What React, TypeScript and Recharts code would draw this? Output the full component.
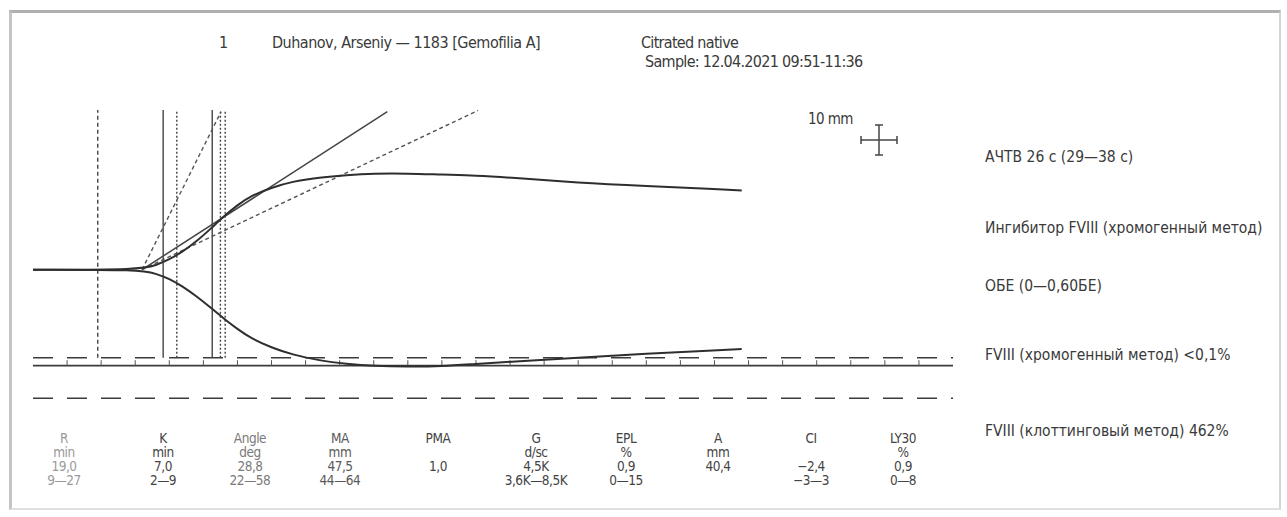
import React from 'react'
import { ComposedChart, Line, XAxis, YAxis, ReferenceLine } from 'recharts'

// trace: minutes vs half-amplitude in mm
const minutes = [0, 16, 18, 20, 22, 24, 26, 28, 30, 32, 35, 38, 42, 46, 50, 55, 60, 65, 70, 80, 90, 100, 104]
const upperMm = [0, 0, 1.1, 2.5, 4.5, 7.0, 10.0, 13.2, 16.0, 18.3, 20.3, 21.8, 22.8, 23.4, 23.8, 23.8, 23.5, 23.3, 22.8, 21.5, 20.7, 20.0, 19.6]
const lowerMm = [0, 0, -1.0, -2.2, -4.2, -6.6, -9.3, -12.1, -14.7, -17.0, -19.3, -21.0, -22.5, -23.3, -23.8, -24.0, -23.9, -23.3, -22.8, -21.8, -20.8, -20.0, -19.6]

// angle lines: [start, end] as {t, v}
const angleLine = [{ t: 16, v: 0 }, { t: 52, v: 39.1 }]
const angleNormMin = [{ t: 16, v: 0 }, { t: 65.3, v: 39.4 }]
const angleNormMax = [{ t: 16, v: 0 }, { t: 27.6, v: 39.1 }]

// vertical markers (min) and their kind
const markerMinutes = [9.5, 19.1, 21.1, 26.3, 27.5, 28.2]
const markerKinds = ['dash', 'solid', 'dot', 'solid', 'dot', 'dot']

// MA lines (half amplitude, mm)
const maLine = -23.75
const maNormLow = -21.8
const maNormHigh = -31.8

const tickMinutes = [5, 10, 15, 20, 25, 30, 35, 40, 45, 50, 55, 60, 65, 70, 75, 80, 85, 90, 95, 100, 105, 110, 115, 120, 125, 130]

const paramNames = ['R', 'K', 'Angle', 'MA', 'PMA', 'G', 'EPL', 'A', 'CI', 'LY30']
const paramUnits = ['min', 'min', 'deg', 'mm', '', 'd/sc', '%', 'mm', '', '%']
const paramValues = ['19,0', '7,0', '28,8', '47,5', '1,0', '4,5K', '0,9', '40,4', '−2,4', '0,9']
const paramRanges = ['9—27', '2—9', '22—58', '44—64', '', '3,6K—8,5K', '0—15', '', '−3—3', '0—8']

const notes = [
  'АЧТВ 26 с (29—38 с)',
  'Ингибитор FVIII (хромогенный метод)',
  'ОБЕ (0—0,60БЕ)',
  'FVIII (хромогенный метод) <0,1%',
  'FVIII (клоттинговый метод) 462%',
]

const FONT = '"DejaVu Sans Condensed", "DejaVu Sans", sans-serif'
const INK = '#3a3a3a'

const colX = [64, 163, 250, 340, 438, 536, 626, 718, 811, 903]
const colInk = ['#9a9a9a', '#444', '#7a7a7a', '#5a5a5a', '#444', '#444', '#444', '#444', '#444', '#444']
const rowY = [439, 453, 467, 481]
const noteY = [158, 229, 287, 356, 432]

const dashFor = (k: string) => (k === 'dash' ? '4 3' : k === 'dot' ? '2 2' : undefined)

export default function App() {
  const curve = minutes.map((t, i) => ({ t, upper: upperMm[i], lower: lowerMm[i] }))

  const txt = (s: string, x: number, y: number, size: number, ls: number) => (
    <div
      key={`${s}-${x}-${y}`}
      style={{
        position: 'absolute', left: x, top: y - size / 2, height: size,
        whiteSpace: 'nowrap', lineHeight: 1, fontFamily: FONT, fontStretch: 'condensed',
        fontSize: size, letterSpacing: ls, color: INK,
      }}
    >
      {s}
    </div>
  )

  return (
    <div style={{ position: 'absolute', left: 0, top: 0, width: 1287, height: 517, background: '#fff', overflow: 'hidden' }}>
      <div style={{
        position: 'absolute', left: 9, top: 10, width: 1272, height: 500,
        borderTop: '3px solid #b0b0b0', borderLeft: '3px solid #c4c4c4',
        borderRight: '2px solid #d4d4d4', borderBottom: '2px solid #e0e0e0', boxSizing: 'border-box',
      }} />

      <ComposedChart width={1287} height={517} margin={{ top: 108, right: 334, bottom: 118, left: 33 }} style={{ position: 'absolute', left: 0, top: 0 }}>
        <XAxis dataKey="t" type="number" domain={[0, 135]} hide allowDataOverflow />
        <YAxis type="number" domain={[-32, 40]} hide allowDataOverflow />

        {markerMinutes.map((m, i) => (
          <ReferenceLine key={`m${i}`} segment={[{ x: m, y: maNormLow }, { x: m, y: 39.5 }]}
            stroke="#444" strokeWidth={1.4} strokeDasharray={dashFor(markerKinds[i])} />
        ))}

        <ReferenceLine segment={[{ x: 0, y: maNormLow }, { x: 135, y: maNormLow }]} stroke="#3c3c3c" strokeWidth={1.6} strokeDasharray="20 14" />
        <ReferenceLine segment={[{ x: 0, y: maLine }, { x: 135, y: maLine }]} stroke="#3c3c3c" strokeWidth={1.6} />
        <ReferenceLine segment={[{ x: 0, y: maNormHigh }, { x: 135, y: maNormHigh }]} stroke="#3c3c3c" strokeWidth={1.6} strokeDasharray="20 14" />
        {tickMinutes.map((m) => (
          <ReferenceLine key={`tk${m}`} segment={[{ x: m, y: maLine }, { x: m, y: -22.4 }]} stroke="#555" strokeWidth={1} />
        ))}

        <Line data={angleNormMax} dataKey="v" stroke="#555" strokeWidth={1.4} strokeDasharray="4 3" dot={false} isAnimationActive={false} />
        <Line data={angleNormMin} dataKey="v" stroke="#555" strokeWidth={1.4} strokeDasharray="4 3" dot={false} isAnimationActive={false} />
        <Line data={angleLine} dataKey="v" stroke="#444" strokeWidth={1.5} dot={false} isAnimationActive={false} />

        <Line data={curve} dataKey="upper" type="basis" stroke="#2e2e2e" strokeWidth={2} dot={false} isAnimationActive={false} />
        <Line data={curve} dataKey="lower" type="basis" stroke="#2e2e2e" strokeWidth={2} dot={false} isAnimationActive={false} />
      </ComposedChart>

      {txt('1', 219, 43, 16, 0)}
      {txt('Duhanov, Arseniy — 1183 [Gemofilia A]', 272, 43, 16, -0.5)}
      {txt('Citrated native', 641, 43, 16, -0.7)}
      {txt('Sample: 12.04.2021 09:51-11:36', 645, 62, 16, -0.7)}
      {txt('10 mm', 808, 119, 15, -0.6)}

      <svg width={50} height={40} style={{ position: 'absolute', left: 855, top: 120 }}>
        <g stroke="#444" strokeWidth={1.5}>
          <line x1={6} y1={20} x2={42} y2={20} />
          <line x1={6} y1={16} x2={6} y2={24} />
          <line x1={42} y1={16} x2={42} y2={24} />
          <line x1={24} y1={5} x2={24} y2={35} />
          <line x1={20} y1={5} x2={28} y2={5} />
          <line x1={20} y1={35} x2={28} y2={35} />
        </g>
      </svg>

      {notes.map((n, i) => txt(n, 985, noteY[i], 15.5, 0))}

      {paramNames.map((_, c) => (
        <React.Fragment key={`col${c}`}>
          {[paramNames[c], paramUnits[c], paramValues[c], paramRanges[c]].map((s, r) => (
            <div key={`c${c}r${r}`} style={{
              position: 'absolute', left: colX[c] - 60, width: 120, top: rowY[r] - 7, height: 14,
              textAlign: 'center', fontFamily: FONT, fontStretch: 'condensed', fontSize: 13.5, lineHeight: 1,
              letterSpacing: -0.45, color: colInk[c], whiteSpace: 'nowrap',
            }}>{s}</div>
          ))}
        </React.Fragment>
      ))}
    </div>
  )
}
